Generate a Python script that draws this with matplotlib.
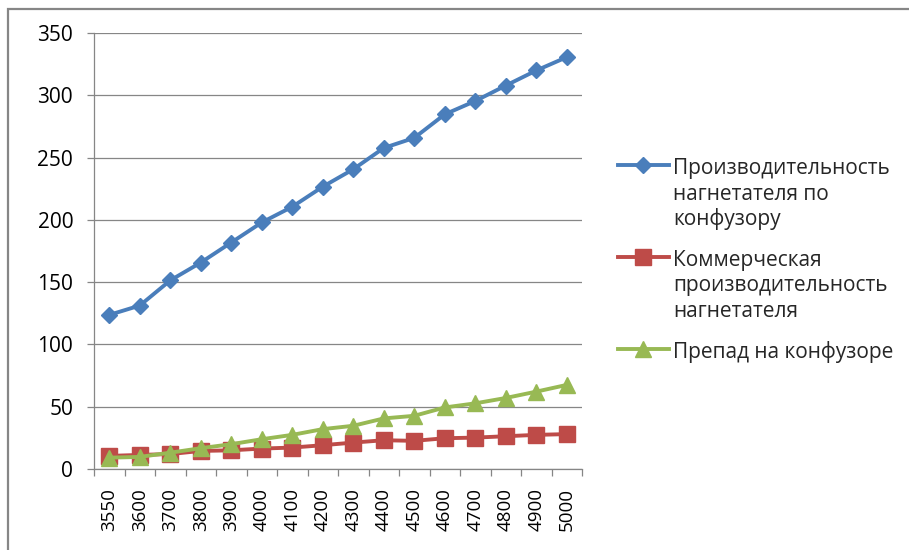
import matplotlib
matplotlib.use("Agg")
import matplotlib.pyplot as plt
from matplotlib.lines import Line2D
from matplotlib.patches import Rectangle

plt.rcParams['font.family'] = ['Open Sans', 'DejaVu Sans']

# Rotational speed of the blower (x categories)
speeds = ["3550", "3600", "3700", "3800", "3900", "4000", "4100", "4200",
          "4300", "4400", "4500", "4600", "4700", "4800", "4900", "5000"]

# Series values
confuser_capacity = [123.7, 131.2, 151.4, 165.7, 181.8, 197.9, 210.5, 226.6,
                     240.6, 257.7, 265.8, 284.7, 295.4, 307.8, 319.9, 330.6]
commercial_capacity = [10.5, 11.3, 12.0, 14.5, 15.0, 16.4, 17.2, 19.1,
                       21.2, 23.1, 22.6, 24.7, 25.2, 26.3, 27.4, 28.0]
confuser_drop = [9.1, 9.7, 13.1, 16.7, 19.9, 23.9, 27.4, 32.0,
                 34.7, 40.6, 42.7, 49.4, 52.7, 57.0, 62.1, 67.5]

series_names = [
    ["Производительность", "нагнетателя по", "конфузору"],
    ["Коммерческая", "производительность", "нагнетателя"],
    ["Препад на конфузоре"],
]

W, H = 909, 550
fig = plt.figure(figsize=(W / 100, H / 100), dpi=100)

def fx(px):
    return px / W

def fy(py):
    return 1 - py / H

grey = "#868686"
blue = "#4A7EBB"
red = "#BE4B48"
green = "#98B954"

ax = fig.add_axes([fx(94), fy(469), fx(582) - fx(94), fy(33) - fy(469)])

xs = list(range(len(speeds)))
styles = [
    (confuser_capacity, blue, "D", 8.0),
    (commercial_capacity, red, "s", 11.0),
    (confuser_drop, green, "^", 11.0),
]
for vals, col, mk, ms in styles:
    ax.plot(xs, vals, color=col, lw=2.8, marker=mk, markersize=ms,
            markerfacecolor=col, markeredgecolor=col, solid_joinstyle="round")

ax.set_xlim(-0.5, len(speeds) - 0.5)
ax.set_ylim(0, 350)
ax.set_yticks(range(0, 351, 50))
ax.yaxis.grid(True, color=grey, lw=0.9)
ax.set_axisbelow(True)

ax.set_xticks(xs)
ax.set_xticklabels(speeds, rotation=90, fontsize=13.5)
ax.set_xticks([i - 0.5 for i in range(len(speeds) + 1)], minor=True)
ax.tick_params(axis="x", which="major", length=0, pad=14)
ax.tick_params(axis="x", which="minor", length=5, width=0.9, color=grey, direction="out")
ax.tick_params(axis="y", length=5, width=0.9, color=grey, direction="out",
               labelsize=15, pad=10)

for s in ["top", "right"]:
    ax.spines[s].set_visible(False)
for s in ["left", "bottom"]:
    ax.spines[s].set_color(grey)
    ax.spines[s].set_linewidth(0.9)

# Legend drawn beside the plot area, handles aligned with first text row
entry_rows = [165, 257, 349]
row_step = 25.5
for (vals, col, mk, ms), names, ry in zip(styles, series_names, entry_rows):
    fig.add_artist(Line2D([fx(618), fx(669)], [fy(ry), fy(ry)], color=col, lw=2.8))
    fig.add_artist(Line2D([fx(643)], [fy(ry)], color=col, marker=mk,
                          markersize=ms, markerfacecolor=col, markeredgecolor=col))
    for k, line in enumerate(names):
        fig.text(fx(673), fy(ry + 1.5 + k * row_step + 7.5), line,
                 fontsize=15, color="#262626", va="baseline", ha="left")

# Chart frame
fig.add_artist(Rectangle((fx(8), fy(600)), 1.2, fy(9) - fy(600),
                         transform=fig.transFigure, fill=False,
                         edgecolor=grey, lw=1.6, clip_on=False))

fig.savefig("out.png", dpi=100)
